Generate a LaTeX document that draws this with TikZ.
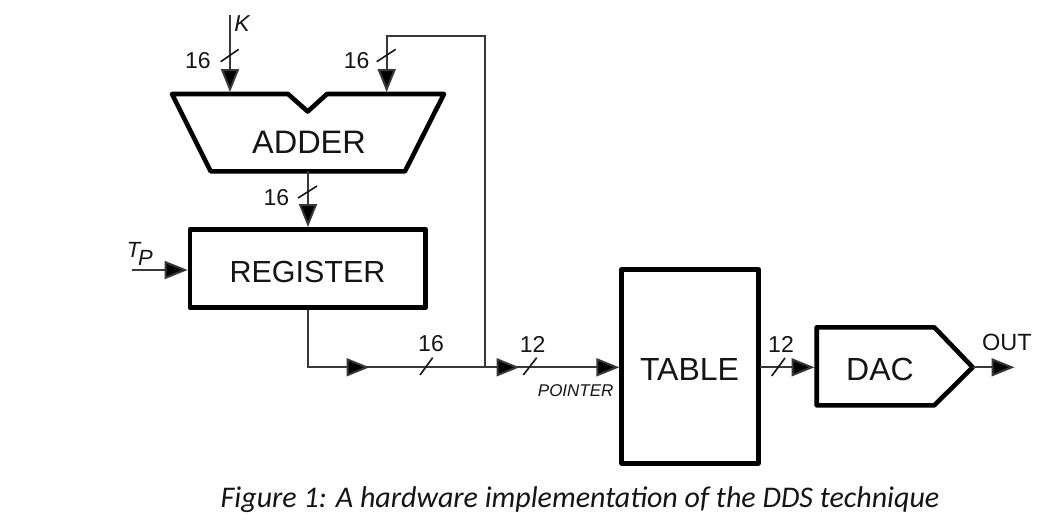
\documentclass[tikz,border=0pt]{standalone}
\usepackage{fontspec}
\setmainfont{Liberation Sans}
\newfontfamily\capfont{Carlito}
\usetikzlibrary{arrows.meta}
\newcommand{\fs}[1]{\fontsize{#1}{#1}\selectfont}
\definecolor{ink}{HTML}{151515}
\tikzset{
  x=1pt,y=-1pt,
  blockline/.style={draw=black,line width=4.6pt,line join=round,fill=white},
  block/.style={blockline,inner sep=0pt},
  blocktext/.style={inner sep=0pt,text=ink,font=\fs{32}},
  wire/.style={draw=ink!85,line width=2pt},
  arrowwire/.style={wire,-{Triangle[length=23pt,width=18pt,fill=black]},shorten >=0pt},
  slash/.style={draw=ink,line width=1.6pt},
  bus/.style={inner sep=0pt,text=ink,font=\fs{23}},
}
\begin{document}
\begin{tikzpicture}
\useasboundingbox (0,0) rectangle (1063,525);
\fill[white] (0,0) rectangle (1063,525);
% adder outline
\coordinate (a1) at (172,94);
\coordinate (a2) at (288,94);
\coordinate (a3) at (307.7,111.5);
\coordinate (a4) at (327,94);
\coordinate (a5) at (444,94);
\coordinate (a6) at (405,171.3);
\coordinate (a7) at (210.7,171.3);
\draw[blockline] (a1) -- (a2) -- (a3) -- (a4) -- (a5) -- (a6) -- (a7) -- cycle;
\node[blocktext,font=\fs{32.5}] (adder) at (309,142) {ADDER};
\coordinate (addin1) at (230,92);
\coordinate (addin2) at (386.7,92);
\coordinate (addout) at (308,171.3);
% register
\node[block,minimum width=235.7pt,minimum height=78.4pt] (register) at (307.8,268.5) {};
\node[blocktext,font=\fs{30.5}] (registertext) at (307.5,272) {REGISTER};
% table
\node[block,minimum width=136.6pt,minimum height=194pt] (table) at (690,366.3) {};
\node[blocktext] (tabletext) at (689.5,369) {TABLE};
% dac
\coordinate (d1) at (816.7,327.3);
\coordinate (d2) at (934.3,327.3);
\coordinate (dtip) at (972.7,367.3);
\coordinate (d3) at (934.3,405.3);
\coordinate (d4) at (816.7,405.3);
\draw[blockline] (d1) -- (d2) -- (dtip) -- (d3) -- (d4) -- cycle;
\node[blocktext] (dac) at (880,369) {DAC};
% free ends
\coordinate (kstart) at (230,15);
\coordinate (tpstart) at (131.7,270);
\coordinate (corner) at (308,367.3);
\coordinate (bus1) at (369.5,367.3);
\coordinate (bus1b) at (365,367.3);
\coordinate (tee) at (485,367.3);
\coordinate (bus2) at (519.5,367.3);
\coordinate (bus2b) at (515,367.3);
\coordinate (fbtop) at (485,36);
\coordinate (fbleft) at (386.7,36);
\coordinate (dacin) at (814.5,367.3);
\coordinate (tabout) at (760,367.3);
\coordinate (outend) at (1014.5,367.3);
% connectors
\draw[arrowwire] (kstart) -- (addin1);
\draw[arrowwire] (tee) -- (fbtop) -- (fbleft) -- (addin2);
\draw[arrowwire] (addout) -- (register.north -| addout);
\draw[arrowwire] (tpstart) -- (tpstart -| register.west);
\draw[arrowwire] (register.south -| corner) -- (corner) -- (bus1);
\draw[arrowwire] (bus1b) -- (bus2);
\draw[arrowwire] (bus2b) -- (table.west |- bus2);
\draw[arrowwire] (tabout) -- (dacin);
\draw[arrowwire] (dtip) -- (outend);
% bus slashes
\draw[slash] (220.7,61.7) -- (238.7,49.3);
\draw[slash] (376.7,61.7) -- (395.7,49.3);
\draw[slash] (298,198) -- (317,186);
\draw[slash] (420,375) -- (432.7,357.7);
\draw[slash] (523.3,375) -- (536.7,357.7);
\draw[slash] (771.7,376) -- (785,358);
% labels
\node[bus] (n1) at (198,61) {16};
\node[bus] (n2) at (356.7,61) {16};
\node[bus] (n3) at (276.5,197.5) {16};
\node[bus] (n4) at (431,344) {16};
\node[bus] (n5) at (532.7,344) {12};
\node[bus] (n6) at (781,344) {12};
\node[inner sep=0pt,text=ink,font=\fs{23}\itshape] (klabel) at (242,24) {K};
\node[inner sep=0pt,text=ink,font=\fs{22}\itshape] (tlabel) at (133.5,250) {T};
\node[inner sep=0pt,text=ink,font=\fs{22}\itshape] (plabel) at (145.5,258) {P};
\node[inner sep=0pt,text=ink,font=\fs{17}\itshape] (pointer) at (575.7,391) {POINTER};
\node[inner sep=0pt,text=ink,font=\fs{23.5}] (outl) at (1007,342) {OUT};
\node[inner sep=0pt,text=ink,font=\fs{30}\capfont\itshape] (caption) at (580,500) {Figure 1: A hardware implementation of the DDS technique};
\end{tikzpicture}
\end{document}
